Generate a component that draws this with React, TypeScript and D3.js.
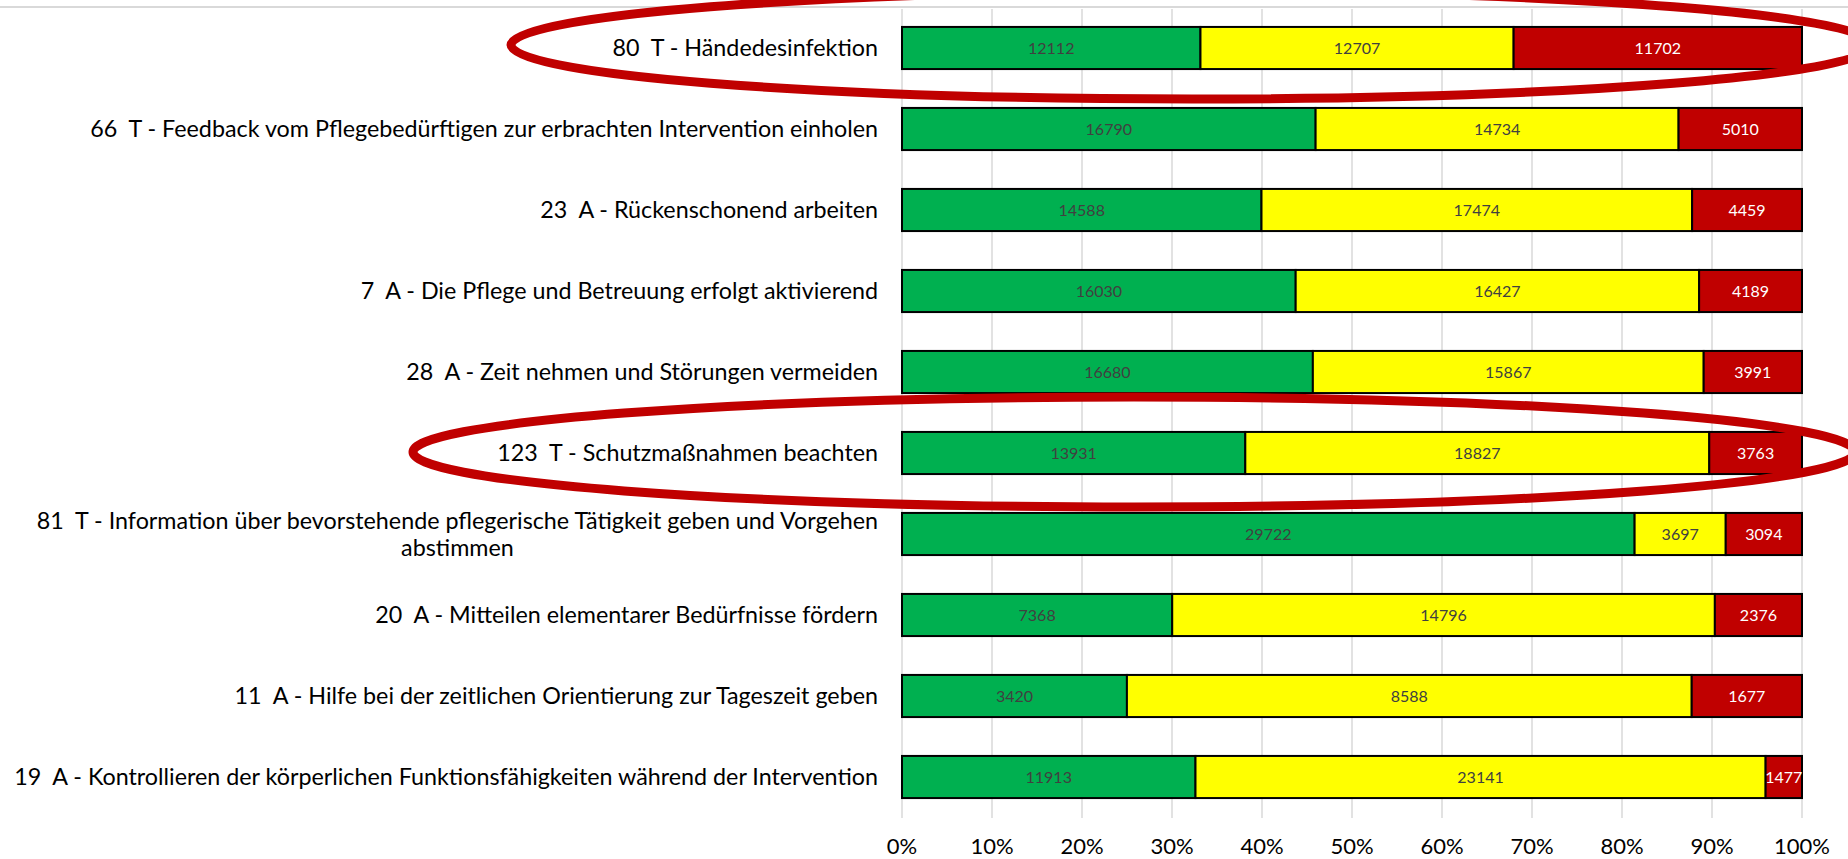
import React, { useEffect, useRef } from "react";
import * as d3 from "d3";

const categories: string[] = [
  "80  T - Händedesinfektion",
  "66  T - Feedback vom Pflegebedürftigen zur erbrachten Intervention einholen",
  "23  A - Rückenschonend arbeiten",
  "7  A - Die Pflege und Betreuung erfolgt aktivierend",
  "28  A - Zeit nehmen und Störungen vermeiden",
  "123  T - Schutzmaßnahmen beachten",
  "81  T - Information über bevorstehende pflegerische Tätigkeit geben und Vorgehen\nabstimmen",
  "20  A - Mitteilen elementarer Bedürfnisse fördern",
  "11  A - Hilfe bei der zeitlichen Orientierung zur Tageszeit geben",
  "19  A - Kontrollieren der körperlichen Funktionsfähigkeiten während der Intervention",
];

const greenValues: number[] = [12112, 16790, 14588, 16030, 16680, 13931, 29722, 7368, 3420, 11913];
const yellowValues: number[] = [12707, 14734, 17474, 16427, 15867, 18827, 3697, 14796, 8588, 23141];
const redValues: number[] = [11702, 5010, 4459, 4189, 3991, 3763, 3094, 2376, 1677, 1477];

const tickValues: number[] = [0, 0.1, 0.2, 0.3, 0.4, 0.5, 0.6, 0.7, 0.8, 0.9, 1.0];

const highlighted: number[] = [0, 5];

const W = 1848;
const H = 859;
const FONT = "Lato, 'Open Sans', sans-serif";

export default function App() {
  const ref = useRef<SVGSVGElement | null>(null);

  useEffect(() => {
    const svg = d3.select(ref.current);
    svg.selectAll("*").remove();

    const x0 = 902;
    const x1 = 1802;
    const yTop = 7.5;
    const yBottom = 817.5;

    const x = d3.scaleLinear().domain([0, 1]).range([x0, x1]);
    const y = d3
      .scaleBand<number>()
      .domain(categories.map((_, i) => i))
      .range([yTop, yBottom])
      .paddingInner(0.48)
      .paddingOuter(0.24);

    // top border line
    svg
      .append("line")
      .attr("x1", 0)
      .attr("x2", W)
      .attr("y1", 7)
      .attr("y2", 7)
      .attr("stroke", "#d9d9d9")
      .attr("stroke-width", 2);

    // gridlines
    svg
      .append("g")
      .selectAll("line")
      .data(tickValues)
      .join("line")
      .attr("x1", (d) => x(d))
      .attr("x2", (d) => x(d))
      .attr("y1", 9)
      .attr("y2", 818)
      .attr("stroke", "#d9d9d9")
      .attr("stroke-width", 1.5);

    // tick labels
    svg
      .append("g")
      .selectAll("text")
      .data(tickValues)
      .join("text")
      .attr("x", (d) => x(d))
      .attr("y", 846)
      .attr("dy", "0.35em")
      .attr("text-anchor", "middle")
      .attr("font-family", FONT)
      .attr("font-size", 22)
      .attr("fill", "#000")
      .text((d) => d3.format(".0%")(d));

    // stacked data
    const rows = categories.map((c, i) => {
      const total = greenValues[i] + yellowValues[i] + redValues[i];
      const vals = [greenValues[i], yellowValues[i], redValues[i]];
      let acc = 0;
      return vals.map((v, k) => {
        const s = acc / total;
        acc += v;
        return { i, k, v, s, e: acc / total };
      });
    });
    const segs = rows.flat();
    const fills = ["#00B050", "#FFFF00", "#C00000"];
    const labelFills = ["#404040", "#404040", "#FFFFFF"];

    svg
      .append("g")
      .selectAll("rect")
      .data(segs)
      .join("rect")
      .attr("x", (d) => x(d.s))
      .attr("width", (d) => x(d.e) - x(d.s))
      .attr("y", (d) => y(d.i)!)
      .attr("height", y.bandwidth())
      .attr("fill", (d) => fills[d.k])
      .attr("stroke", "#000")
      .attr("stroke-width", 2);

    svg
      .append("g")
      .selectAll("text")
      .data(segs)
      .join("text")
      .attr("x", (d) => (x(d.s) + x(d.e)) / 2)
      .attr("y", (d) => y(d.i)! + y.bandwidth() / 2)
      .attr("dy", "0.35em")
      .attr("text-anchor", "middle")
      .attr("font-family", FONT)
      .attr("font-size", 16)
      .attr("fill", (d) => labelFills[d.k])
      .text((d) => String(d.v));

    // category labels
    const labelX = 878;
    const lineH = 27;
    const labelSize = 23.3;
    const lg = svg.append("g");
    categories.forEach((c, i) => {
      const lines = c.split("\n");
      const cy = y(i)! + y.bandwidth() / 2;
      const startY = cy - ((lines.length - 1) * lineH) / 2;
      const first = lg
        .append("text")
        .attr("x", labelX)
        .attr("y", startY)
        .attr("dy", "0.35em")
        .attr("text-anchor", "end")
        .attr("font-family", FONT)
        .attr("font-size", labelSize)
        .attr("fill", "#000")
        .style("white-space", "pre")
        .text(lines[0]);
      const node = first.node() as SVGTextElement;
      const w = node ? node.getComputedTextLength() : 0;
      for (let l = 1; l < lines.length; l++) {
        lg.append("text")
          .attr("x", labelX - w / 2)
          .attr("y", startY + l * lineH)
          .attr("dy", "0.35em")
          .attr("text-anchor", "middle")
          .attr("font-family", FONT)
          .attr("font-size", labelSize)
          .attr("fill", "#000")
          .style("white-space", "pre")
          .text(lines[l]);
      }
    });

    // highlight ellipses (annotations)
    const ellipseSpec = [
      { left: 511, right: 1873, dy: -3, ry: 54 },
      { left: 413, right: 1855, dy: -1, ry: 55 },
    ];
    svg
      .append("g")
      .selectAll("ellipse")
      .data(highlighted)
      .join("ellipse")
      .attr("cx", (_, j) => (ellipseSpec[j].left + ellipseSpec[j].right) / 2)
      .attr("cy", (d, j) => y(d)! + y.bandwidth() / 2 + ellipseSpec[j].dy)
      .attr("rx", (_, j) => (ellipseSpec[j].right - ellipseSpec[j].left) / 2)
      .attr("ry", (_, j) => ellipseSpec[j].ry)
      .attr("fill", "none")
      .attr("stroke", "#C00000")
      .attr("stroke-width", 9);
  }, []);

  return (
    <svg
      ref={ref}
      width={W}
      height={H}
      style={{ position: "absolute", left: 0, top: 0, background: "#fff", display: "block" }}
    />
  );
}
